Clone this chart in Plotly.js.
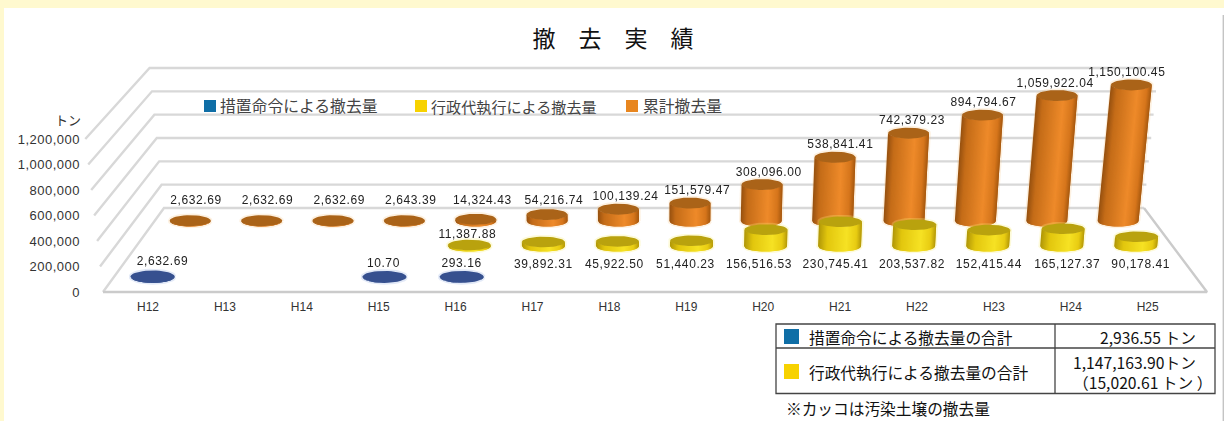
<!DOCTYPE html>
<html lang="ja">
<head>
<meta charset="utf-8">
<title>撤去実績</title>
<script src="https://cdn.plot.ly/plotly-3.0.1.min.js"></script>
<style>
html,body{margin:0;padding:0;background:#fff;overflow:hidden}
#chart{width:1224px;height:421px}
#chart .scatterlayer{filter:blur(0.7px)}
#chart .textpoint text{letter-spacing:0.6px}
#chart .ytick text{letter-spacing:0.5px}
</style>
</head>
<body>
<div id="chart"></div>
<script>
// ---- data ----
var categories = ['H12','H13','H14','H15','H16','H17','H18','H19','H20','H21','H22','H23','H24','H25'];
var orderAmounts = [2632.69,null,null,10.70,293.16,null,null,null,null,null,null,null,null,null];
var executionAmounts = [null,null,null,null,11387.88,39892.31,45922.50,51440.23,156516.53,230745.41,203537.82,152415.44,165127.37,90178.41];
var cumulativeAmounts = [2632.69,2632.69,2632.69,2643.39,14324.43,54216.74,100139.24,151579.47,308096.00,538841.41,742379.23,894794.67,1059922.04,1150100.45];
var yTicks = [0,200000,400000,600000,800000,1000000,1200000];

// ---- text ----
var legendNames = ['措置命令による撤去量','行政代執行による撤去量','累計撤去量'];

// ---- page geometry and style ----
var W = 1224, H = 421;
var ZERO_PY = 292, MAX_PX = 153, Y_MAX = 1200000;
var CAT_PX = 76.9, CAT0_PX = 148;
var FONT_JP = '"Noto Sans CJK JP", sans-serif';
var FONT_NUM = '"Liberation Sans", sans-serif';
var axX = function (px) { return (px - CAT0_PX) / CAT_PX; };
var axY = function (py) { return (ZERO_PY - py) * Y_MAX / MAX_PX; };

// Floor and wall perspective: d = 0 at the front, d = 1 at the back wall.
function project(i, d, v) {
  var left = 103 + 61 * d, right = 1207 - 63 * d;
  var x = left + (i + 0.5) / categories.length * (right - left);
  var h = v / Y_MAX * (153 - 13 * d);
  return [x + (x - 654) * 0.00021 * h, ZERO_PY - 84 * d - h];
}

var traces = [];

// walls
function polyline(points, color, width) {
  traces.push({type:'scatter', mode:'lines', hoverinfo:'skip', showlegend:false,
    x: points.map(function (p) { return axX(p[0]); }),
    y: points.map(function (p) { return axY(p[1]); }),
    line:{color:color, width:width}, cliponaxis:false});
}
var iL = -0.5, iR = categories.length - 0.5;
yTicks.forEach(function (t) {
  polyline([project(iL,0,t), project(iL,1,t), project(iR,1,t)], '#d8d8d8', 2.4);
});
polyline([project(iL,0,0), project(iR,0,0), project(iR,1,0)], '#cbcbcb', 2.4);

// cylinders
function mix(stops, t) {
  for (var s = 1; s < stops.length; s++) {
    if (t <= stops[s][0]) {
      var a = stops[s-1], b = stops[s], f = (t - a[0]) / (b[0] - a[0]);
      return 'rgb(' + [0,1,2].map(function (c) { return Math.round(a[1][c] + f * (b[1][c] - a[1][c])); }).join(',') + ')';
    }
  }
  return 'rgb(' + stops[stops.length-1][1].join(',') + ')';
}

function cylinders(values, depth, rx, ry, hScale, stops, topColor, halo) {
  var N = 36, cols = [];
  values.forEach(function (v, i) {
    if (v === null) return;
    cols.push({b: project(i, depth, 0), t: project(i, depth, v * hScale)});
  });
  // soft edge
  var hx = [], hy = [];
  cols.forEach(function (c) {
    for (var a = 0; a <= 40; a++) {
      var th = a / 40 * 2 * Math.PI, up = Math.sin(th) < 0;
      var q = up ? c.t : c.b;
      hx.push(axX(q[0] + rx * Math.cos(th))); hy.push(axY(q[1] + ry * Math.sin(th)));
    }
    hx.push(hx[hx.length-41]); hy.push(hy[hy.length-41]);
    hx.push(null); hy.push(null);
  });
  traces.push({type:'scatter', mode:'lines', hoverinfo:'skip', showlegend:false, x:hx, y:hy,
    line:{color:halo, width:3.5}, cliponaxis:false});
  // body: vertical strips, so that the shading follows each leaning column
  for (var k = 0; k < N; k++) {
    var xs = [], ys = [];
    cols.forEach(function (c) {
      var n = 5, lower = [], upper = [];
      for (var j = 0; j <= n; j++) {
        var u = -1 + 2 * (k + j / n * (k === N-1 ? 1 : 2)) / N;
        u = Math.min(1, u);
        var sag = ry * Math.sqrt(Math.max(0, 1 - u * u));
        lower.push([c.b[0] + rx * u, c.b[1] + sag]);
        upper.push([c.t[0] + rx * u, c.t[1] + sag - 0.5]);
      }
      lower.concat(upper.reverse()).forEach(function (p) { xs.push(axX(p[0])); ys.push(axY(p[1])); });
      xs.push(axX(lower[0][0])); ys.push(axY(lower[0][1]));
      xs.push(null); ys.push(null);
    });
    traces.push({type:'scatter', mode:'lines', fill:'toself', hoverinfo:'skip', showlegend:false,
      x:xs, y:ys, line:{width:0, color:'rgba(0,0,0,0)'}, fillcolor:mix(stops, (k + 0.5) / N), cliponaxis:false});
  }
  // top face
  var tx = [], ty = [];
  cols.forEach(function (c) {
    for (var a = 0; a <= 40; a++) {
      var th = a / 40 * 2 * Math.PI;
      tx.push(axX(c.t[0] + rx * Math.cos(th))); ty.push(axY(c.t[1] + ry * Math.sin(th)));
    }
    tx.push(null); ty.push(null);
  });
  traces.push({type:'scatter', mode:'lines', fill:'toself', hoverinfo:'skip', showlegend:false,
    x:tx, y:ty, line:{width:0, color:'rgba(0,0,0,0)'}, fillcolor:topColor, cliponaxis:false});
}

var D_ORDER = 0.18, D_EXEC = 0.545, D_CUM = 0.845;
cylinders(cumulativeAmounts, D_CUM, 20.5, 5.5, 1,
  [[0,[150,80,15]],[0.15,[196,108,24]],[0.65,[238,138,42]],[0.88,[214,118,28]],[1,[165,88,14]]],
  '#aa6318', 'rgba(244,190,120,0.22)');
cylinders(executionAmounts, D_EXEC, 21.5, 5.3, 0.87,
  [[0,[176,150,8]],[0.2,[226,198,14]],[0.65,[246,226,36]],[0.88,[232,204,18]],[1,[180,152,8]]],
  '#b9a20e', 'rgba(248,236,120,0.28)');
cylinders(orderAmounts, D_ORDER, 22, 6, 1,
  [[0,[52,80,142]],[1,[52,80,142]]],
  '#36508f', 'rgba(150,175,225,0.28)');

// data labels
var fmt = function (v) { return v.toLocaleString('en-US', {minimumFractionDigits:2, maximumFractionDigits:2}); };
function labelTrace(values, pos) {
  var xs = [], ys = [], tx = [];
  values.forEach(function (v, i) {
    if (v === null) return;
    var p = pos(v, i);
    xs.push(axX(p[0])); ys.push(axY(p[1])); tx.push(fmt(v));
  });
  traces.push({type:'scatter', mode:'text', hoverinfo:'skip', showlegend:false, x:xs, y:ys, text:tx,
    textposition:'middle center', cliponaxis:false,
    textfont:{family:FONT_NUM, size:12, color:'#222'}});
}
labelTrace(cumulativeAmounts, function (v, i) {
  return [196 + 71.6 * i, Math.min(project(i, D_CUM, v)[1] - 12, 201)];
});
var execLabelShift = [0,0,0,0,-2,0,-3,-6,-7,-5,-3,0,4,4];
labelTrace(executionAmounts, function (v, i) {
  var p = project(i, D_EXEC, v);
  return [p[0] + execLabelShift[i], i === 4 ? 235 : 264.5];
});
var orderLabelShift = {0:10, 3:-1, 4:0};
labelTrace(orderAmounts, function (v, i) {
  return [project(i, D_ORDER, v)[0] + orderLabelShift[i], i === 0 ? 262 : 264];
});

// ---- page furniture ----
var px = function (x) { return x / W; };
var py = function (y) { return 1 - y / H; };
function rect(x0, y0, x1, y1, fill, layer, lineColor, lineWidth) {
  return {type:'rect', xref:'paper', yref:'paper', x0:px(x0), x1:px(x1), y0:py(y1), y1:py(y0),
    fillcolor:fill, layer:layer || 'above', line:{width:lineWidth || 0, color:lineColor || 'rgba(0,0,0,0)'}};
}
function seg(x0, y0, x1, y1, color, width) {
  return {type:'line', xref:'paper', yref:'paper', x0:px(x0), x1:px(x1), y0:py(y0), y1:py(y1),
    layer:'above', line:{color:color, width:width}};
}
function text(x, y, t, anchor, size, color) {
  return {xref:'paper', yref:'paper', x:px(x), y:py(y), text:t, showarrow:false, align:anchor || 'left',
    xanchor:anchor || 'left', yanchor:'middle', borderpad:0, bgcolor:'rgba(0,0,0,0)',
    font:{family:FONT_JP, size:size || 15.7, color:color || '#111'}};
}

var BLUE = '#0f6ea6', YELLOW = '#f7d200', ORANGE = '#e8861f';
var shapes = [
  rect(0, 0, W, 8, '#fff9cf', 'below'),
  rect(0, 8, 4, H, '#fff9cf', 'below'),
  seg(1223.3, 15, 1223.3, H, '#c4c4c4', 1.4),
  rect(204, 100, 216, 112, BLUE),
  rect(415, 100, 427, 112, YELLOW),
  rect(626, 100, 638, 112, ORANGE),
  rect(776, 324, 1215, 393.5, 'rgba(0,0,0,0)', 'above', '#444', 1.3),
  seg(776, 348, 1215, 348, '#444', 1.3),
  seg(1055, 324, 1055, 393.5, '#444', 1.3),
  rect(784, 329, 799, 344, BLUE),
  rect(784, 364, 799, 379, YELLOW)
];
var annotations = [
  text(82, 119, 'トン', 'right', 13, '#333'),
  text(219, 106, legendNames[0], 'left', 15.8, '#444'),
  text(430, 106, legendNames[1], 'left', 15.1, '#444'),
  text(642, 106, legendNames[2], 'left', 15.8, '#444'),
  text(808, 337, legendNames[0] + 'の合計', 'left'),
  text(808, 372, legendNames[1] + 'の合計', 'left'),
  text(1197, 337, '2,936.55 トン', 'right'),
  text(1072, 372, '1,147,163.90トン<br>（15,020.61 トン ）', 'left'),
  text(785, 408, '※カッコは汚染土壌の撤去量', 'left')
];

var layout = {
  width:W, height:H, autosize:false, showlegend:false,
  margin:{l:0, r:0, t:0, b:0, pad:0},
  paper_bgcolor:'#ffffff', plot_bgcolor:'rgba(0,0,0,0)',
  title:{text:'撤　去　実　績', x:px(613), xref:'paper', xanchor:'center', y:py(39), yref:'paper', yanchor:'middle',
    font:{family:FONT_JP, size:23, color:'#111'}, pad:{t:0, b:0, l:0, r:0}},
  xaxis:{type:'linear', domain:[0,1], range:[axX(0), axX(W)], anchor:'free', position:py(ZERO_PY),
    tickmode:'array', tickvals:categories.map(function (c, i) { return i; }), ticktext:categories,
    ticks:'outside', ticklen:4, tickcolor:'rgba(0,0,0,0)', showgrid:false, zeroline:false, showline:false,
    tickangle:0, automargin:false, fixedrange:true,
    tickfont:{family:'"Liberation Sans", sans-serif', size:12, color:'#333'}},
  yaxis:{type:'linear', domain:[0,1], range:[axY(H), axY(0)], anchor:'free', position:px(80),
    tickmode:'array', tickvals:yTicks, ticktext:yTicks.map(function (v) { return v.toLocaleString('en-US'); }),
    ticks:'', showgrid:false, zeroline:false, showline:false, automargin:false, fixedrange:true,
    tickfont:{family:FONT_NUM, size:13, color:'#333'}},
  shapes:shapes, annotations:annotations
};

Plotly.newPlot('chart', traces, layout, {displayModeBar:false, responsive:false, staticPlot:true});
</script>
</body>
</html>
